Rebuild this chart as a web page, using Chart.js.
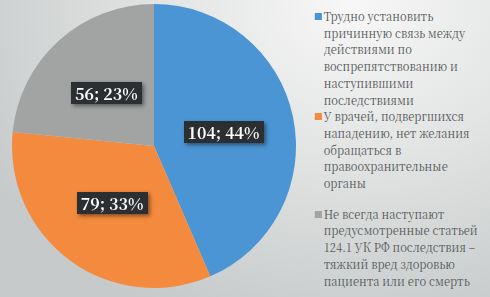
<!DOCTYPE html>
<html><head><meta charset="utf-8">
<script src="https://cdn.jsdelivr.net/npm/chart.js@4"></script>
<style>
html,body{margin:0;padding:0;}
body{width:490px;height:297px;overflow:hidden;position:relative;
background:radial-gradient(ellipse 420px 330px at 72% 2%, #f7f7f7 0%, #e3e4e4 45%, #c6caca 100%);}
#wrap{position:absolute;left:0;top:0;width:310px;height:297px;}
#legend{position:absolute;left:313px;top:8px;width:200px;font-family:'Noto Serif CJK SC','DejaVu Serif',serif;font-size:12.6px;line-height:16.7px;color:#555a5a;white-space:nowrap;transform:scaleX(0.89);transform-origin:0 0;}
.item{position:relative;padding-left:12px;}
.sw{position:absolute;left:2px;top:5px;width:8px;height:7px;}
</style></head><body>
<div id="wrap"><canvas id="c"></canvas></div>
<div id="legend"></div>
<script>
const categories = [
  "Трудно установить причинную связь между действиями по воспрепятствованию и наступившими последствиями",
  "У врачей, подвергшихся нападению, нет желания обращаться в правоохранительные органы",
  "Не всегда наступают предусмотренные статьей 124.1 УК РФ последствия – тяжкий вред здоровью пациента или его смерть"
];
const legendLines = [
  ["Трудно установить","причинную связь между","действиями по","воспрепятствованию и","наступившими","последствиями"],
  ["У врачей, подвергшихся","нападению, нет желания","обращаться в","правоохранительные","органы"],
  ["Не всегда наступают","предусмотренные статьей","124.1 УК РФ последствия –","тяжкий вред здоровью","пациента или его смерть"]
];
const values = [104, 79, 56];
const percents = [44, 33, 23];
const colors = ["#4b95d5", "#f48a3d", "#a2a4a4"];

const lg = document.getElementById('legend');
legendLines.forEach((lines,i)=>{
  const d=document.createElement('div');d.className='item';
  if(i===2) d.style.marginTop='14px';
  d.innerHTML='<span class="sw" style="background:'+colors[i]+'"></span>'+lines.join('<br>');
  lg.appendChild(d);
});

const labelPlugin = {
  id:'boxLabels',
  afterDatasetsDraw(chart){
    const ctx=chart.ctx;
    const meta=chart.getDatasetMeta(0);
    ctx.save();
    ctx.font="bold 16px 'Noto Serif CJK SC', 'DejaVu Serif', serif";
    ctx.textAlign='center';ctx.textBaseline='middle';
    meta.data.forEach((arc,i)=>{
      const p=arc.getProps(['x','y','startAngle','endAngle','outerRadius'],true);
      const mid=(p.startAngle+p.endAngle)/2;
      const r=p.outerRadius*0.5;
      const x=p.x+Math.cos(mid)*r, y=p.y+Math.sin(mid)*r;
      const t=values[i]+'; '+percents[i]+'%';
      const w=ctx.measureText(t).width+8, h=22;
      ctx.shadowColor='rgba(0,0,0,0.45)';ctx.shadowBlur=4;ctx.shadowOffsetX=2;ctx.shadowOffsetY=2;
      ctx.fillStyle='#2c2f31';
      ctx.fillRect(Math.round(x-w/2),Math.round(y-h/2),Math.round(w),h);
      ctx.shadowColor='transparent';
      ctx.fillStyle='#ffffff';
      ctx.fillText(t,x,y+1);
    });
    ctx.restore();
  }
};

new Chart(document.getElementById('c'),{
  type:'pie',
  data:{labels:categories,datasets:[{data:values,backgroundColor:colors,borderWidth:0}]},
  options:{
    responsive:true,maintainAspectRatio:false,animation:false,
    layout:{padding:{left:12,right:14,top:4,bottom:9}},
    plugins:{legend:{display:false},tooltip:{enabled:false}}
  },
  plugins:[labelPlugin]
});
</script>
</body></html>
